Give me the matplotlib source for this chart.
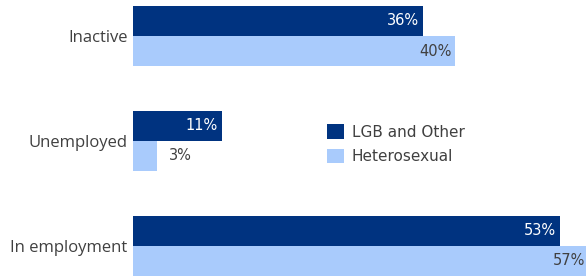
import matplotlib.pyplot as plt
import numpy as np

categories = ['In employment', 'Unemployed', 'Inactive']
lgb = [53, 11, 36]
hetero = [57, 3, 40]
series_names = ['LGB and Other', 'Heterosexual']

dark = '#003380'
light = '#a9cbfc'
txt = '#404040'

fig = plt.figure(figsize=(5.86, 2.76), dpi=100)
ax = fig.add_axes([133 / 586, 0, 1 - 133 / 586, 1])

y = np.arange(len(categories))
h = 0.286
b1 = ax.barh(y + h / 2, lgb, height=h, color=dark, label=series_names[0])
b2 = ax.barh(y - h / 2, hetero, height=h, color=light, label=series_names[1])

xmax = 56.2
ax.set_xlim(0, xmax)
ax.set_ylim(-h, 2 + 36 / 105)

for bar, v in zip(b1, lgb):
    ax.text(v - 0.5, bar.get_y() + bar.get_height() / 2, f'{v}%', ha='right', va='center',
            color='white', fontsize=10.5, family='DejaVu Sans')
for bar, v in zip(b2, hetero):
    cy = bar.get_y() + bar.get_height() / 2
    if v < 6:
        ax.text(v + 1.5, cy, f'{v}%', ha='left', va='center', color=txt, fontsize=10.5,
                family='DejaVu Sans')
    else:
        ax.text(min(v - 0.5, xmax - 0.1), cy, f'{v}%', ha='right', va='center', color=txt,
                fontsize=10.5, family='DejaVu Sans')

ax.set_yticks(y)
ax.set_yticklabels(categories, fontsize=12, color=txt, family='Open Sans')
ax.tick_params(axis='y', length=0, pad=4)
ax.set_xticks([])
for s in ax.spines.values():
    s.set_visible(False)

leg = ax.legend(loc='upper left', bbox_to_anchor=((321 - 133) / 453, 1 - 118 / 276), frameon=False,
                fontsize=11, handlelength=1.1, handleheight=1.1, handletextpad=0.5,
                labelspacing=0.6, borderaxespad=0)
for t in leg.get_texts():
    t.set_color(txt)

fig.savefig('out.png', dpi=100)
